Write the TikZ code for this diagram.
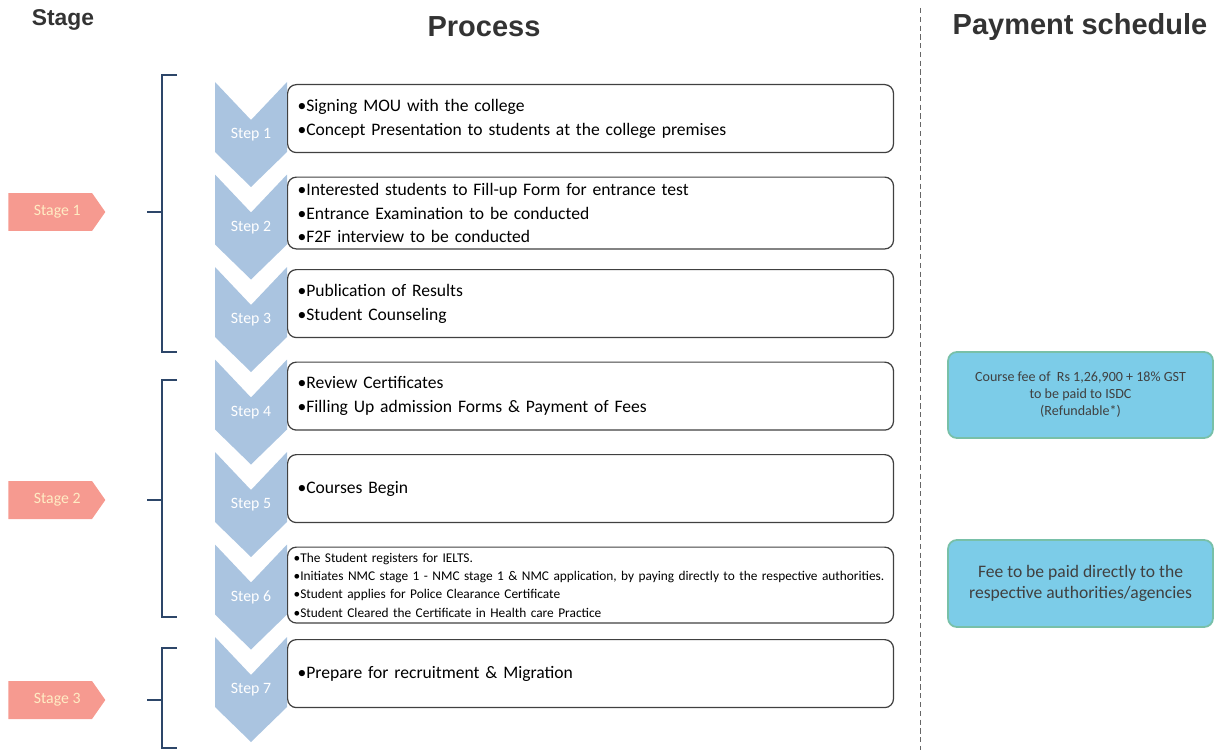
\documentclass[tikz,border=0pt]{standalone}
\usepackage{fontspec}
\setmainfont{Carlito}
\newfontfamily\headfont{Liberation Sans}
\definecolor{chevblue}{RGB}{170,196,224}
\definecolor{stagered}{RGB}{246,154,144}
\definecolor{stagetext}{RGB}{255,236,196}
\definecolor{payblue}{RGB}{124,204,232}
\definecolor{payline}{RGB}{120,192,168}
\definecolor{bracketcol}{RGB}{45,70,105}
\tikzset{
    stepbox/.style={draw=black!75, line width=0.7pt, rounded corners=5pt, anchor=north west,
        minimum height=1.36cm, text width=11.72cm, inner xsep=0.2cm, align=left,
        font=\fontsize{10}{13.6}\selectfont},
    steplabel/.style={text=white, font=\fontsize{9}{11}\selectfont},
    stagetag/.style={fill=stagered, text=stagetext, signal, signal to=east, signal pointer angle=110,
        anchor=west, minimum width=1.94cm, minimum height=0.76cm, inner sep=0pt,
        font=\fontsize{9}{11}\selectfont},
    paybox/.style={fill=payblue, draw=payline, line width=1pt, rounded corners=5pt,
        minimum width=5.3cm, align=center, text=black!75},
    header/.style={font=\headfont\bfseries, text=black!80}
}
\usetikzlibrary{shapes.symbols}
\begin{document}
\begin{tikzpicture}[x=0.02cm, y=-0.02cm]
            \useasboundingbox (0,0) rectangle (1223,750);

            \node[header, font=\headfont\bfseries\fontsize{13}{15}\selectfont] (hstage) at (63,20) {Stage};
            \node[header, font=\headfont\bfseries\fontsize{16.5}{19}\selectfont] (hproc) at (484,27) {Process};
            \node[header, font=\headfont\bfseries\fontsize{16.5}{19}\selectfont] (hpay) at (1080,27) {Payment schedule};

            \draw[black!60, densely dashed, line width=0.5pt] (920,8) -- (920,750);

            \foreach \i in {1,...,7} {
                \pgfmathsetmacro\t{82+92.5*(\i-1)}
                \fill[chevblue] (215,\t) -- (251,\t+38) -- (287,\t) -- (287,\t+70)
                    -- (251,\t+105) -- (215,\t+70) -- cycle;
                \node[steplabel] (s\i) at (251,\t+53) {Step \i};
            }

            \node[stepbox] (b1) at (287,84) {•Signing MOU with the college\\
                •Concept Presentation to students at the college premises};
            \node[stepbox] (b2) at (287,176.5) {•Interested students to Fill-up Form for entrance test\\
                •Entrance Examination to be conducted\\
                •F2F interview to be conducted};
            \node[stepbox] (b3) at (287,269) {•Publication of Results\\
                •Student Counseling};
            \node[stepbox] (b4) at (287,361.5) {•Review Certificates\\
                •Filling Up admission Forms \& Payment of Fees};
            \node[stepbox] (b5) at (287,454) {•Courses  Begin};
            \node[stepbox, font=\fontsize{7.6}{10.4}\selectfont, inner xsep=0.12cm, text width=11.88cm] (b6) at (287,546.5) {•The Student registers for IELTS.\\
                •Initiates NMC stage 1 - NMC stage 1 \& NMC application, by paying directly to the respective authorities.\\
                •Student applies for Police Clearance Certificate\\
                •Student Cleared the Certificate in Health care Practice};
            \node[stepbox] (b7) at (287,639) {•Prepare for recruitment \& Migration};

            \foreach \n\y/\a/\b in {1/212/75/352, 2/500/380/617, 3/700/648/748} {
                \node[stagetag] (g\n) at (8,\y) {\hspace{0.28cm}Stage \n};
                \draw[bracketcol, line width=0.8pt] (177,\a) -- (162,\a) -- (162,\b) -- (177,\b);
                \draw[bracketcol, line width=0.8pt] (147,\y) -- (162,\y);
            }

            \node[paybox, minimum height=1.72cm, font=\fontsize{8}{9.6}\selectfont] (p1) at (1080.5,395)
                {Course fee of\ \ Rs 1,26,900 + 18\% GST\\ to be paid to ISDC\\ (Refundable*)};
            \node[paybox, minimum height=1.74cm, font=\fontsize{10}{11.8}\selectfont] (p2) at (1080.5,583.5)
                {Fee to be paid directly to the\\ respective authorities/agencies};
        \end{tikzpicture}
\end{document}
